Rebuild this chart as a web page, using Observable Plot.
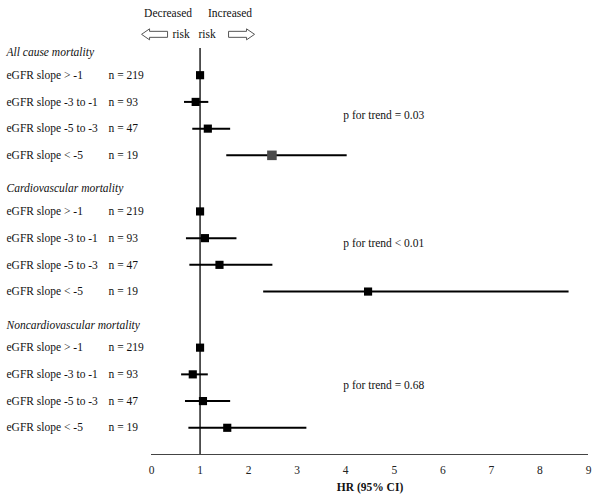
<!DOCTYPE html>
<html>
<head>
<meta charset="utf-8">
<script src="https://cdn.jsdelivr.net/npm/d3@7"></script>
<script src="https://cdn.jsdelivr.net/npm/@observablehq/plot@0.6"></script>
<style>
  html, body { margin: 0; padding: 0; background: #fff; }
  #chart { width: 600px; height: 500px; }
  #chart svg, #chart svg text { font-family: "Liberation Serif", "Times New Roman", serif; }
</style>
</head>
<body>
<div id="chart"></div>
<script>
// ---- data ----
const groups = ["All cause mortality", "Cardiovascular mortality", "Noncardiovascular mortality"];
const slopeLabels = ["eGFR slope > -1", "eGFR slope -3 to -1", "eGFR slope -5 to -3", "eGFR slope < -5"];
const nLabels = ["n = 219", "n = 93", "n = 47", "n = 19"];

const hrAllCause = [1.00, 0.91, 1.16, 2.48];
const loAllCause = [null, 0.68, 0.85, 1.55];
const hiAllCause = [null, 1.18, 1.63, 4.03];

const hrCardio = [1.00, 1.10, 1.40, 4.46];
const loCardio = [null, 0.72, 0.79, 2.31];
const hiCardio = [null, 1.76, 2.50, 8.60];

const hrNonCardio = [1.00, 0.85, 1.06, 1.56];
const loNonCardio = [null, 0.62, 0.70, 0.77];
const hiNonCardio = [null, 1.17, 1.63, 3.20];

const pTrend = ["p for trend = 0.03", "p for trend < 0.01", "p for trend = 0.68"];
const xTicks = [0, 1, 2, 3, 4, 5, 6, 7, 8, 9];
const xLabel = "HR (95% CI)";
const riskLabels = ["Decreased", "Increased"];
const riskWord = "risk";

// ---- build table ----
const hrs = [hrAllCause, hrCardio, hrNonCardio];
const los = [loAllCause, loCardio, loNonCardio];
const his = [hiAllCause, hiCardio, hiNonCardio];
const groupStep = 5.1, rowOffset = 0.85;
const rows = [];
const headers = [];
groups.forEach((g, gi) => {
  headers.push({label: g, pos: gi * groupStep});
  slopeLabels.forEach((s, i) => {
    rows.push({
      g: gi, i, label: s, n: nLabels[i],
      hr: hrs[gi][i], lo: los[gi][i], hi: his[gi][i],
      pos: gi * groupStep + i + rowOffset
    });
  });
});
const ciRows = rows.filter(d => d.lo != null);
const pOffsets = [1.5, 1.2, 1.4];
const pRows = pTrend.map((t, gi) => ({label: t, pos: gi * groupStep + rowOffset + pOffsets[gi]}));
const yMax = 15.05;

const isGrey = d => d.g === 0 && d.i === 3;
const SERIF = "Liberation Serif";
const txt = {fontSize: 11.5, fill: "#111", fontFamily: SERIF};

// hollow block-arrow symbols (custom d3-style symbol types for Plot.dot)
function blockArrow(dir) {
  return {
    draw(ctx) {
      const w = 13, h = 5.5, s = 3, head = 5;
      ctx.moveTo(-dir * w, 0);
      ctx.lineTo(-dir * head, -h);
      ctx.lineTo(-dir * head, -s);
      ctx.lineTo(dir * w, -s);
      ctx.lineTo(dir * w, s);
      ctx.lineTo(-dir * head, s);
      ctx.lineTo(-dir * head, h);
      ctx.closePath();
    }
  };
}
const arrowLeft = blockArrow(1);   // tip pointing left
const arrowRight = blockArrow(-1); // tip pointing right

const plot = Plot.plot({
  width: 600,
  height: 500,
  marginLeft: 151,
  marginRight: 12,
  marginTop: 48,
  marginBottom: 46,
  style: {fontSize: "11px", color: "#000", background: "#fff"},
  x: {domain: [0, 9], ticks: xTicks},
  y: {domain: [0, yMax], range: [52, 454], axis: null},
  marks: [
    Plot.axisX({ticks: xTicks, tickSize: 0, tickPadding: 11, label: null, fontSize: 11.5, fill: "#222", fontFamily: SERIF}),
    Plot.ruleY([yMax], {stroke: "#444", strokeWidth: 1}),
    Plot.ruleX([1], {stroke: "#000", strokeWidth: 1.3}),
    Plot.text([xLabel], {...txt, frameAnchor: "bottom", dy: 36, fontWeight: "bold"}),
    // headers
    Plot.text(headers, {...txt, y: "pos", text: "label", frameAnchor: "left", dx: -145, textAnchor: "start", fontStyle: "italic"}),
    // row labels
    Plot.text(rows, {...txt, y: "pos", text: "label", frameAnchor: "left", dx: -145, textAnchor: "start"}),
    Plot.text(rows, {...txt, y: "pos", text: "n", frameAnchor: "left", dx: -43, textAnchor: "start"}),
    // CI lines
    Plot.ruleY(ciRows, {y: "pos", x1: "lo", x2: "hi", stroke: "#000", strokeWidth: 2}),
    // squares
    Plot.dot(rows.filter(d => !isGrey(d)), {x: "hr", y: "pos", symbol: "square", r: 4.6, fill: "#000", stroke: null}),
    Plot.dot(rows.filter(isGrey), {x: "hr", y: "pos", symbol: "square", r: 5.4, fill: "#4a4a4a", stroke: null}),
    // p for trend
    Plot.text(pRows, {...txt, x: 3.95, y: "pos", text: "label", textAnchor: "start"}),
    // top risk annotations
    Plot.text([riskLabels[0]], {...txt, x: 1, y: -1.45, dx: -32}),
    Plot.text([riskLabels[1]], {...txt, x: 1, y: -1.45, dx: 30}),
    Plot.text([riskWord], {...txt, x: 1, y: -0.68, dx: -19}),
    Plot.text([riskWord], {...txt, x: 1, y: -0.68, dx: 7}),
    Plot.dot([riskLabels[0]], {x: 1, y: -0.68, dx: -45.5, symbol: arrowLeft, r: 5, fill: "#fff", stroke: "#555", strokeWidth: 1}),
    Plot.dot([riskLabels[1]], {x: 1, y: -0.68, dx: 41.5, symbol: arrowRight, r: 5, fill: "#fff", stroke: "#555", strokeWidth: 1})
  ]
});
document.getElementById("chart").appendChild(plot);
</script>
</body>
</html>
